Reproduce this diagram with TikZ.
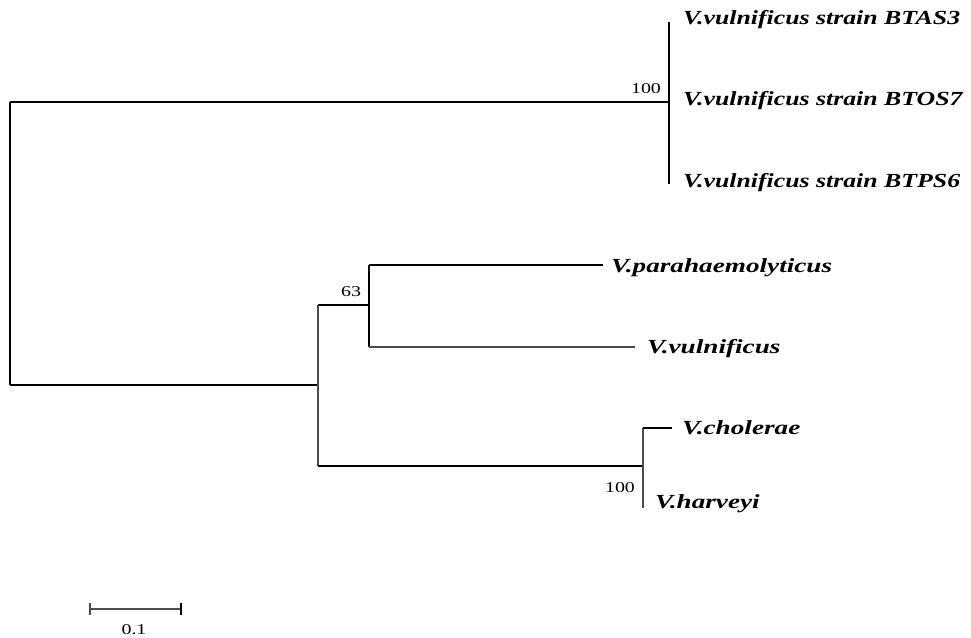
\documentclass[tikz,border=0pt]{standalone}
\usepackage{fontspec}
\setmainfont{Liberation Serif}
\newfontfamily\taxafont[FakeStretch=1.36]{Liberation Serif}
\newfontfamily\strainfont[FakeStretch=1.29]{Liberation Serif}
\newfontfamily\numfont[FakeStretch=1.33]{Liberation Serif}
\begin{document}
\begin{tikzpicture}[x=1pt,y=-1pt,
  branch/.style={line width=1.7pt,black},
  thinbranch/.style={line width=1.1pt,black!70},
  taxon/.style={anchor=base west,inner sep=0pt,font=\taxafont\fontsize{20}{20}\selectfont\bfseries\itshape},
  strain/.style={anchor=base west,inner sep=0pt,font=\strainfont\fontsize{20}{20}\selectfont\bfseries\itshape},
  boot/.style={inner sep=0pt,font=\numfont\fontsize{15}{15}\selectfont},
  scalelbl/.style={inner sep=0pt,font=\numfont\fontsize{15}{15}\selectfont}]
\useasboundingbox (0,0) rectangle (971,637);
% internal nodes
\coordinate (rtop) at (10,102);
\coordinate (rbot) at (10,385);
\coordinate (nA) at (669,102);
\coordinate (nAt) at (669,22);
\coordinate (nAb) at (669,184);
\coordinate (nB) at (318,385);
\coordinate (nBt) at (318,305);
\coordinate (nBb) at (318,466);
\coordinate (nC) at (369,305);
\coordinate (nCt) at (369,265);
\coordinate (nCb) at (369,347);
\coordinate (nD) at (643,466);
\coordinate (nDt) at (643,428);
\coordinate (nDb) at (643,508);
% leaf tips
\coordinate (tPara) at (603,265);
\coordinate (tVul) at (635,347);
\coordinate (tChol) at (672,428);
% labels
\node[strain] (l1) at (683,24) {V.vulnificus strain BTAS3};
\node[strain] (l2) at (683,105) {V.vulnificus strain BTOS7};
\node[strain] (l3) at (683,187) {V.vulnificus strain BTPS6};
\node[taxon] (l4) at (611,272) {V.parahaemolyticus};
\node[taxon] (l5) at (647,353) {V.vulnificus};
\node[taxon] (l6) at (682,434) {V.cholerae};
\node[taxon] (l7) at (655,508) {V.harveyi};
\node[boot] (b1) at (646,89) {100};
\node[boot] (b2) at (351,292) {63};
\node[boot] (b3) at (620,488) {100};
% tree
\draw[branch] (rtop) -- (rbot);
\draw[branch] (rtop) -- (nA);
\draw[branch] (nAt) -- (nAb);
\draw[branch] (rbot) -- (nB);
\draw[thinbranch] (nBt) -- (nBb);
\draw[branch] (nBt) -- (nC);
\draw[branch] (nCt) -- (nCb);
\draw[line width=2.4pt] (nCt) -- (tPara);
\draw[thinbranch] (nCb) -- (tVul);
\draw[branch] (nBb) -- (nD);
\draw[thinbranch] (nDt) -- (nDb);
\draw[branch] (nDt) -- (tChol);
% scale bar
\coordinate (s1) at (90,609);
\coordinate (s2) at (181,609);
\draw[thinbranch] (s1) -- (s2);
\draw[thinbranch] ([yshift=-6]s1) -- ([yshift=6]s1);
\draw[branch] ([yshift=-6]s2) -- ([yshift=6]s2);
\node[scalelbl] (sl) at (134,630) {0.1};
\end{tikzpicture}
\end{document}
